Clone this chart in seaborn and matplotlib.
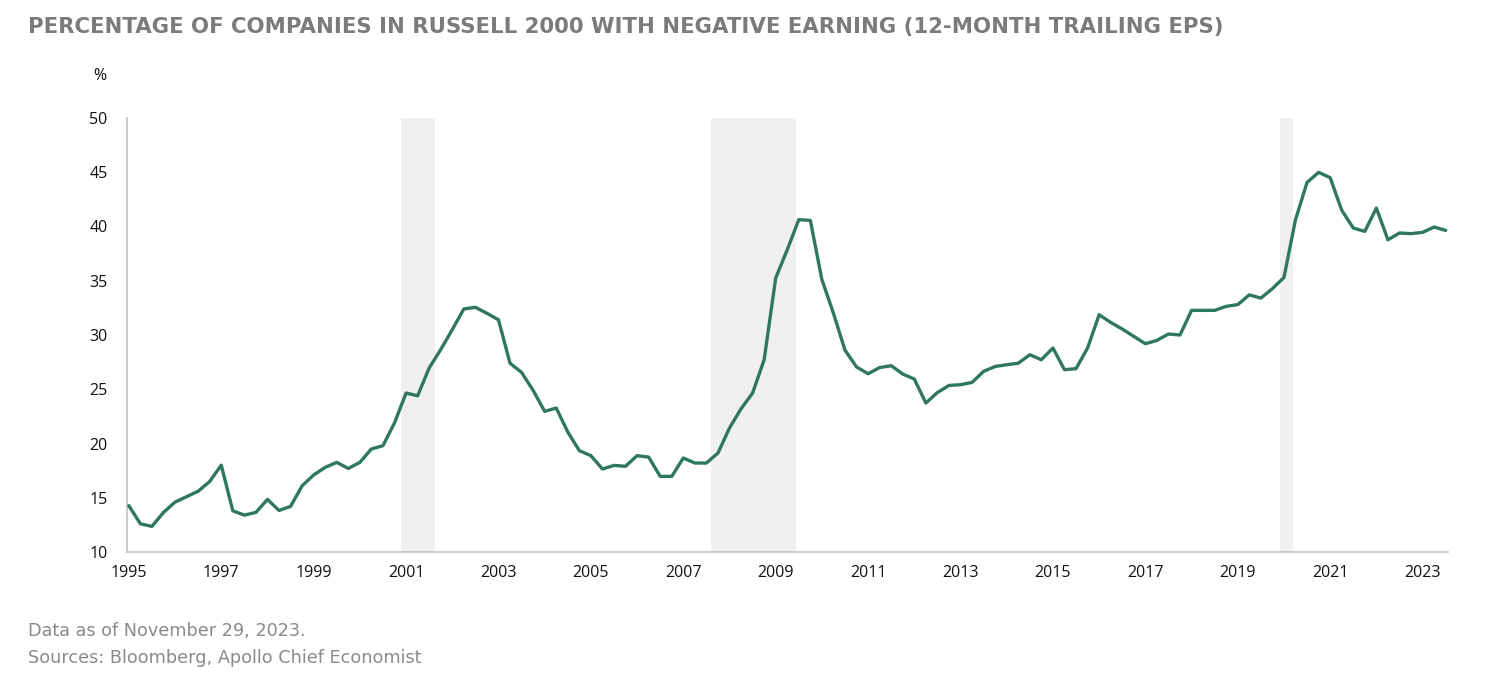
import numpy as np
import pandas as pd
import matplotlib
matplotlib.use("Agg")
import matplotlib.pyplot as plt
import seaborn as sns

# Quarterly observations, starting 1995 Q1
start_year = 1995.0
pct_negative = [
    14.27, 12.6, 12.36, 13.65, 14.6, 15.1, 15.6, 16.5,      # 1995-1996
    18.0, 13.8, 13.4, 13.65, 14.85, 13.83, 14.2, 16.1,      # 1997-1998
    17.1, 17.8, 18.26, 17.7, 18.26, 19.5, 19.8, 21.9,       # 1999-2000
    24.65, 24.4, 26.96, 28.65, 30.5, 32.4, 32.55, 32.0,     # 2001-2002
    31.4, 27.4, 26.55, 24.9, 22.96, 23.27, 21.06, 19.34,    # 2003-2004
    18.88, 17.65, 17.98, 17.9, 18.88, 18.75, 16.97, 16.97,  # 2005-2006
    18.66, 18.2, 18.2, 19.12, 21.43, 23.2, 24.65, 27.72,    # 2007-2008
    35.25, 37.86, 40.63, 40.56, 35.1, 32.0, 28.6, 27.05,    # 2009-2010
    26.43, 27.0, 27.17, 26.4, 25.94, 23.73, 24.7, 25.35,    # 2011-2012
    25.42, 25.63, 26.65, 27.1, 27.26, 27.4, 28.18, 27.72,   # 2013-2014
    28.8, 26.8, 26.9, 28.8, 31.87, 31.16, 30.55, 29.87,     # 2015-2016
    29.2, 29.5, 30.09, 30.0, 32.27, 32.27, 32.27, 32.64,    # 2017-2018
    32.8, 33.7, 33.4, 34.27, 35.3, 40.63, 44.06, 44.99,     # 2019-2020
    44.5, 41.5, 39.86, 39.55, 41.7, 38.78, 39.4, 39.34,     # 2021-2022
    39.46, 39.95, 39.64,                                     # 2023
]
recessions = [(2000.89, 2001.62), (2007.60, 2009.44), (2019.91, 2020.19)]
x_ticks = [1995, 1997, 1999, 2001, 2003, 2005, 2007, 2009, 2011, 2013, 2015, 2017, 2019, 2021, 2023]
y_ticks = [10, 15, 20, 25, 30, 35, 40, 45, 50]

title = "PERCENTAGE OF COMPANIES IN RUSSELL 2000 WITH NEGATIVE EARNING (12-MONTH TRAILING EPS)"
note1 = "Data as of November 29, 2023."
note2 = "Sources: Bloomberg, Apollo Chief Economist"

df = pd.DataFrame({
    "date": start_year + np.arange(len(pct_negative)) * 0.25,
    "pct": pct_negative,
})

sns.set_theme(style="white")
plt.rcParams["font.family"] = ["Open Sans", "DejaVu Sans"]

W, H = 1494, 692
fig = plt.figure(figsize=(W / 100, H / 100), dpi=100)
ax = fig.add_axes([0.085, 0.2023, 0.9692 - 0.085, 0.8295 - 0.2023])

for a, b in recessions:
    ax.axvspan(a, b, ymin=0, ymax=1, color="#f0f0f0", lw=0, zorder=0)

sns.lineplot(data=df, x="date", y="pct", ax=ax, color="#2f7761", linewidth=2.4, zorder=3)

ax.set_xlim(1994.96, 2023.55)
ax.set_ylim(10, 50)
ax.set_xticks(x_ticks)
ax.set_xticklabels([str(t) for t in x_ticks], fontsize=11.5, color="#111111")
ax.set_yticks(y_ticks)
ax.set_yticklabels([str(t) for t in y_ticks], fontsize=11.5, color="#111111")
ax.tick_params(axis="both", length=0)
ax.tick_params(axis="x", pad=9)
ax.tick_params(axis="y", pad=14)
ax.set_xlabel("")
ax.set_ylabel("")
for s in ["top", "right"]:
    ax.spines[s].set_visible(False)
for s in ["left", "bottom"]:
    ax.spines[s].set_color("#c8c8c8")
    ax.spines[s].set_linewidth(1.3)
ax.grid(False)

t_title = fig.text(28 / W, 1 - 33 / H, title, fontsize=14.2, fontweight="bold",
                   color="#7b7b7b", ha="left", va="baseline", family=["DejaVu Sans"])
fig.text(100 / W, 1 - 76 / H, "%", fontsize=11.5, color="#111111", ha="center", va="center")
t_n1 = fig.text(28 / W, 1 - 636 / H, note1, fontsize=12, color="#8a8a8a", ha="left",
                va="baseline", family=["DejaVu Sans"])
t_n2 = fig.text(28 / W, 1 - 663 / H, note2, fontsize=12, color="#8a8a8a", ha="left",
                va="baseline", family=["DejaVu Sans"])

# fit text widths to the reference layout
fig.canvas.draw()
renderer = fig.canvas.get_renderer()
for txt, target in [(t_title, 1195), (t_n1, 276)]:
    w = txt.get_window_extent(renderer).width
    txt.set_fontsize(txt.get_fontsize() * target / w)
t_n2.set_fontsize(t_n1.get_fontsize())

fig.savefig("out.png", dpi=100)
